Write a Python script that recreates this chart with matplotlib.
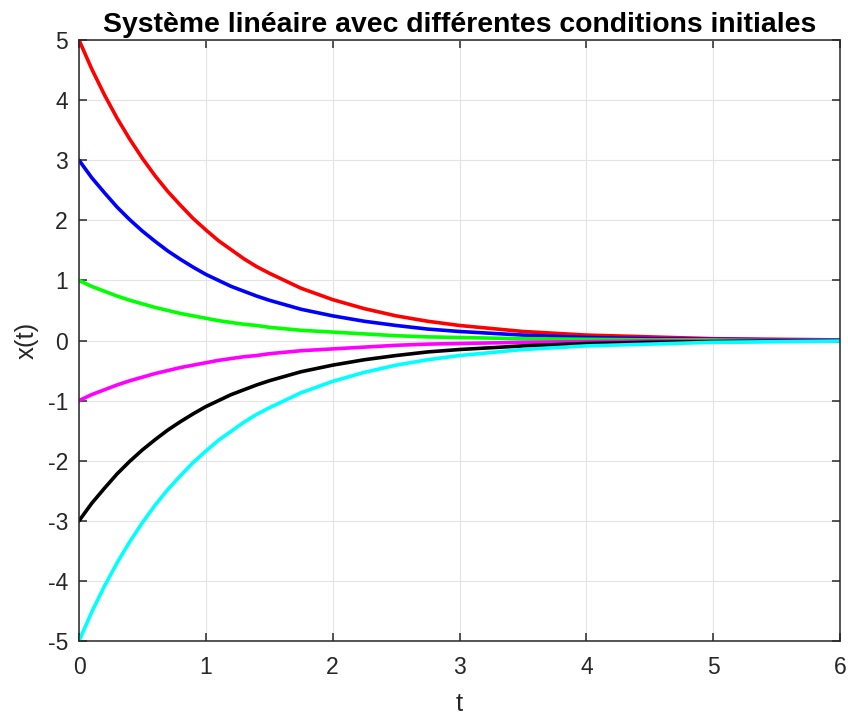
import matplotlib
matplotlib.use("Agg")
import matplotlib.pyplot as plt

# Time samples
t = [0, 0.1, 0.2, 0.3, 0.4, 0.5, 0.6, 0.7, 0.8, 0.9, 1.0, 1.1, 1.2, 1.3, 1.4, 1.5,
     1.75, 2.0, 2.25, 2.5, 2.75, 3.0, 3.5, 4.0, 4.5, 5.0, 5.5, 6.0]

# Curve values (one per initial condition)
x_p5 = [5.00, 4.52, 4.09, 3.70, 3.35, 3.03, 2.74, 2.48, 2.25, 2.03, 1.84, 1.66, 1.51, 1.36, 1.23, 1.12,
        0.87, 0.68, 0.53, 0.41, 0.32, 0.25, 0.15, 0.09, 0.06, 0.03, 0.02, 0.01]
x_p3 = [3.00, 2.71, 2.46, 2.22, 2.01, 1.82, 1.65, 1.49, 1.35, 1.22, 1.10, 1.00, 0.90, 0.82, 0.74, 0.67,
        0.52, 0.41, 0.32, 0.25, 0.19, 0.15, 0.09, 0.05, 0.03, 0.02, 0.01, 0.01]
x_p1 = [1.00, 0.90, 0.82, 0.74, 0.67, 0.61, 0.55, 0.50, 0.45, 0.41, 0.37, 0.33, 0.30, 0.27, 0.25, 0.22,
        0.17, 0.14, 0.11, 0.08, 0.06, 0.05, 0.03, 0.02, 0.01, 0.01, 0.00, 0.00]
x_m1 = [-1.00, -0.90, -0.82, -0.74, -0.67, -0.61, -0.55, -0.50, -0.45, -0.41, -0.37, -0.33, -0.30, -0.27, -0.25, -0.22,
        -0.17, -0.14, -0.11, -0.08, -0.06, -0.05, -0.03, -0.02, -0.01, -0.01, -0.00, -0.00]
x_m3 = [-3.00, -2.71, -2.46, -2.22, -2.01, -1.82, -1.65, -1.49, -1.35, -1.22, -1.10, -1.00, -0.90, -0.82, -0.74, -0.67,
        -0.52, -0.41, -0.32, -0.25, -0.19, -0.15, -0.09, -0.05, -0.03, -0.02, -0.01, -0.01]
x_m5 = [-5.00, -4.52, -4.09, -3.70, -3.35, -3.03, -2.74, -2.48, -2.25, -2.03, -1.84, -1.66, -1.51, -1.36, -1.23, -1.12,
        -0.87, -0.68, -0.53, -0.41, -0.32, -0.25, -0.15, -0.09, -0.06, -0.03, -0.02, -0.01]

series = [x_p5, x_p3, x_p1, x_m1, x_m3, x_m5]
colors = ["#ff0000", "#0000ff", "#00ff00", "#ff00ff", "#000000", "#00ffff"]

xticks = [0, 1, 2, 3, 4, 5, 6]
yticks = [-5, -4, -3, -2, -1, 0, 1, 2, 3, 4, 5]

plt.rcParams['font.family'] = ['Liberation Sans', 'DejaVu Sans']

fig = plt.figure(figsize=(8.48, 7.19), dpi=100)
ax = fig.add_axes([79/848, 78/719, 761/848, 601/719])

for ys, c in zip(series, colors):
    ax.plot(t, ys, color=c, linewidth=2.6, solid_capstyle='round', solid_joinstyle='round')

ax.set_xlim(0, 6)
ax.set_ylim(-5, 5)
ax.set_xticks(xticks)
ax.set_yticks(yticks)
ax.set_xticklabels([str(v) for v in xticks])
ax.set_yticklabels([str(v) for v in yticks])

edge = "#262626"
for s in ax.spines.values():
    s.set_color(edge)
    s.set_linewidth(1.1)
ax.grid(True, color="#e3e3e3", linewidth=0.8)
ax.set_axisbelow(True)
ax.tick_params(direction='in', length=6, width=1.1, color=edge, labelcolor=edge,
               labelsize=16.5, top=True, right=True)
ax.tick_params(axis='x', pad=11)
ax.tick_params(axis='y', pad=8)

ax.set_xlabel("t", fontsize=18.5, color=edge, labelpad=9)
ax.set_ylabel("x(t)", fontsize=18.5, color=edge, labelpad=6)
ax.set_title("Système linéaire avec différentes conditions initiales",
             fontsize=20.4, fontweight='bold', color='black', pad=6)

fig.savefig("out.png", dpi=100)
